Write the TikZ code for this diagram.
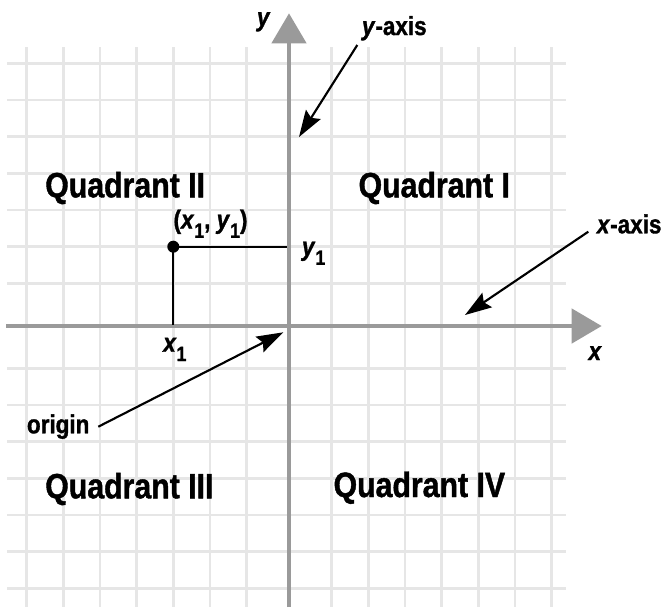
\documentclass[tikz,border=0pt]{standalone}
\usepackage{fontspec}
\setmainfont{Liberation Sans}[FakeStretch=0.86,
  BoldFeatures={FakeBold=1.2},
  BoldItalicFeatures={FakeBold=1.2}]
\usetikzlibrary{arrows.meta}
\definecolor{gridgray}{HTML}{E6E6E6}
\definecolor{axisgray}{HTML}{9A9A9A}
\newcommand\lsub[1]{\raisebox{-7pt}{\fontsize{15.5pt}{16pt}\selectfont\upshape #1}}
\begin{document}
\begin{tikzpicture}[x=0.75pt,y=-0.75pt,
  gridline/.style={draw=gridgray, line width=1.9pt},
  axisline/.style={draw=axisgray, line width=3.4pt, -{Triangle[length=22.5pt,width=25.5pt,fill=axisgray]}},
  callout/.style={draw=black, line width=1.6pt, -{Stealth[length=20pt,width=13pt,inset=3pt]}},
  pointline/.style={draw=black, line width=1.6pt},
  qlabel/.style={anchor=base west, inner sep=0pt, font=\fontsize{26.4pt}{30pt}\selectfont\bfseries},
  slabel/.style={anchor=base west, inner sep=0pt, font=\fontsize{19.6pt}{22pt}\selectfont\bfseries},
]
\useasboundingbox (0,0) rectangle (666,607);
\fill[white] (0,0) rectangle (666,607);
% grid
\foreach \gx in {26.7,63.3,100,136.7,173.3,210,246.7,331.7,368.3,405,441.7,478.3,515,551.7}
  \draw[gridline] (\gx,47) -- (\gx,607);
\foreach \gy in {63.3,100,136.7,173.3,210,246.7,283.3,368.3,405,441.7,478.3,515,551.7,588.3}
  \draw[gridline] (7,\gy) -- (566,\gy);
% axes
\coordinate (O) at (289,326);
\coordinate (yb) at (289,607);
\coordinate (yt) at (289,13.3);
\coordinate (xl) at (6,326);
\coordinate (xr) at (601.7,326);
\draw[axisline] (yb) -- (yt);
\draw[axisline] (xl) -- (xr);
% point
\node[circle, fill=black, inner sep=0pt, minimum size=9pt] (P) at (173.3,246.7) {};
\coordinate (Py) at (287,246.7);
\coordinate (Px) at (173.3,325);
\draw[pointline] (P.center) -- (Py);
\draw[pointline] (P.center) -- (Px);
% labels
\node[qlabel] (q2) at (45,197.3) {Quadrant II};
\node[qlabel] (q1) at (358.3,197.3) {Quadrant I};
\node[qlabel] (q3) at (45,498.3) {Quadrant III};
\node[qlabel] (q4) at (333.3,497) {Quadrant IV};
\node[slabel] (ylab) at (256.7,26) {\itshape y};
\node[slabel] (xlab) at (588.3,360) {\itshape x};
\node[slabel] (yaxis) at (361.7,35) {\textit{y}-axis};
\node[slabel] (xaxis) at (596.7,233.3) {\textit{x}-axis};
\node[slabel] (orig) at (26.7,433.3) {origin};
\node[slabel] (plab) at (173.3,228.5) {(\textit{x}\lsub{1}, \textit{y}\lsub{1})};
\node[slabel] (y1lab) at (301.7,255.5) {\textit{y}\lsub{1}};
\node[slabel] (x1lab) at (163,351.7) {\textit{x}\lsub{1}};
% callouts
\coordinate (yaS) at (357.3,45);
\coordinate (yaT) at (299,137);
\coordinate (xaS) at (588.3,231.7);
\coordinate (xaT) at (465,315);
\coordinate (orS) at (98.3,426.7);
\coordinate (orT) at (283.3,332.3);
\draw[callout] (yaS) -- (yaT);
\draw[callout] (xaS) -- (xaT);
\draw[callout] (orS) -- (orT);
\end{tikzpicture}
\end{document}
